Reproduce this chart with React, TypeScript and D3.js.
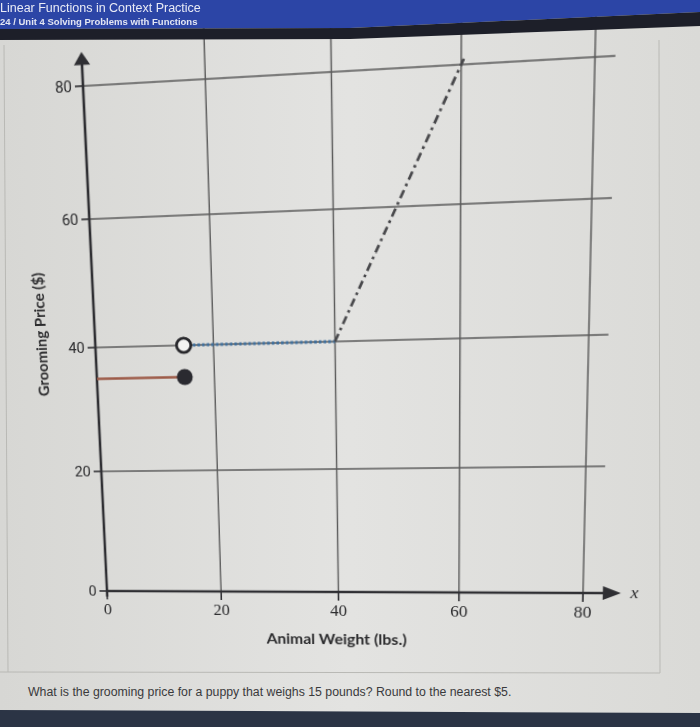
import React from "react";
import * as d3 from "d3";

// ---------- data ----------
const xTicks = [0, 20, 40, 60, 80];
const yTicks = [0, 20, 40, 60, 80];
const solidSegment: [number, number][] = [[0, 35], [15, 35]];
const closedPoint: [number, number] = [15, 35];
const openPoint: [number, number] = [15, 40];
const dottedSegment: [number, number][] = [[15, 40], [40, 40]];
const dashDotSegment: [number, number][] = [[40, 40], [60.4, 80.8]];
const xLabel = "Animal Weight (lbs.)";
const yLabel = "Grooming Price ($)";
const title = "Linear Functions in Context Practice";
const subtitle = "24 / Unit 4 Solving Problems with Functions";
const question = "What is the grooming price for a puppy that weighs 15 pounds? Round to the nearest $5.";

// ---------- layout ----------
const W = 700;
const H = 727;
const xS = d3.scaleLinear().domain([0, 80]).range([107, 584]);
const yS = d3.scaleLinear().domain([0, 80]).range([591, 87]);

// photo perspective: flat chart corners -> photographed corners
const srcPts: [number, number][] = [
  [xS(0), yS(0)], [xS(80), yS(0)], [xS(0), yS(80)], [xS(80), yS(80)],
];
const dstPts: [number, number][] = [
  [107, 591], [583, 593], [83, 86], [595, 57],
];

function homography(src: [number, number][], dst: [number, number][]) {
  const A: number[][] = [];
  for (let i = 0; i < 4; i++) {
    const [x, y] = src[i];
    const [u, v] = dst[i];
    A.push([x, y, 1, 0, 0, 0, -x * u, -y * u, u]);
    A.push([0, 0, 0, x, y, 1, -x * v, -y * v, v]);
  }
  const n = 8;
  for (let c = 0; c < n; c++) {
    let p = c;
    for (let r = c + 1; r < n; r++) if (Math.abs(A[r][c]) > Math.abs(A[p][c])) p = r;
    [A[c], A[p]] = [A[p], A[c]];
    for (let r = 0; r < n; r++) {
      if (r === c) continue;
      const f = A[r][c] / A[c][c];
      for (let k = c; k <= n; k++) A[r][k] -= f * A[c][k];
    }
  }
  const s = A.map((row, i) => row[n] / row[i]);
  const [a, b, c, d, e, f, g, h] = s;
  return `matrix3d(${a},${d},0,${g},${b},${e},0,${h},0,0,1,0,${c},${f},0,1)`;
}

const warp = homography(srcPts, dstPts);
const line = d3.line<[number, number]>().x((d) => xS(d[0])).y((d) => yS(d[1]));

const gridColor = "#5b5b5b";
const axisColor = "#2f2f33";
const textColor = "#2c2c2e";

export default function App() {
  const x0 = xS(0);
  const y0 = yS(0);
  const gridTop = yS(88);
  const gridRight = xS(83);
  const xArrowTip = xS(86);
  const yArrowTip = yS(85);
  return (
    <div style={{ position: "fixed", left: 0, top: 0, width: W, height: H, overflow: "hidden", background: "#dcdcd9" }}>
      {/* base layer */}
      <svg width={W} height={H} style={{ position: "absolute", left: 0, top: 0 }}>
        <defs>
          <linearGradient id="bg" x1="0" x2="1" y1="0" y2="0">
            <stop offset="0" stopColor="#d7d7d4" />
            <stop offset="0.5" stopColor="#e3e3e1" />
            <stop offset="1" stopColor="#dadad7" />
          </linearGradient>
        </defs>
        <rect x={0} y={0} width={W} height={H} fill="url(#bg)" />
        <line x1={4} y1={45} x2={8} y2={672} stroke="#b9b9b5" strokeWidth={1} />
        <line x1={0} y1={672} x2={660} y2={673} stroke="#b9b9b5" strokeWidth={1} />
        <line x1={659} y1={40} x2={660} y2={673} stroke="#b9b9b5" strokeWidth={1} />
        <text x={28} y={696} fontFamily="Liberation Sans, Arial, sans-serif" fontSize={12.3} fill="#3a3a3c">
          {question}
        </text>
        <polygon points={`0,710 ${W},713 ${W},${H} 0,${H}`} fill="#2b3445" />
      </svg>

      {/* chart layer (perspective-warped) */}
      <svg
        width={W}
        height={H}
        style={{ position: "absolute", left: 0, top: 0, overflow: "visible", transformOrigin: "0 0", transform: warp }}
      >
        {/* vertical grid */}
        {xTicks.filter((t) => t > 0).map((t) => (
          <line key={"vx" + t} x1={xS(t)} x2={xS(t)} y1={gridTop} y2={y0} stroke={gridColor} strokeWidth={1.4} />
        ))}
        {/* horizontal grid */}
        {yTicks.filter((t) => t > 0).map((t) => (
          <line key={"hy" + t} x1={x0} x2={gridRight} y1={yS(t)} y2={yS(t)} stroke={gridColor} strokeWidth={1.4} />
        ))}
        {/* y ticks & labels */}
        {yTicks.map((t) => (
          <g key={"yt" + t}>
            <line x1={x0 - 8} x2={x0} y1={yS(t)} y2={yS(t)} stroke={axisColor} strokeWidth={1.6} />
            <text x={x0 - 11} y={yS(t)} dy="0.36em" textAnchor="end" fontFamily="Roboto, sans-serif" fontSize={15} fill={textColor}>
              {t}
            </text>
          </g>
        ))}
        {/* x ticks & labels */}
        {xTicks.map((t) => (
          <g key={"xt" + t}>
            <line x1={xS(t)} x2={xS(t)} y1={y0} y2={y0 + 9} stroke={axisColor} strokeWidth={1.6} />
            <text x={xS(t)} y={y0 + 25} textAnchor="middle" fontFamily="Liberation Serif, serif" fontSize={17} fill={textColor}>
              {t}
            </text>
          </g>
        ))}
        {/* axes */}
        <line x1={x0} x2={xArrowTip - 14} y1={y0} y2={y0} stroke={axisColor} strokeWidth={2.6} />
        <polygon points={`${xArrowTip},${y0} ${xArrowTip - 17},${y0 - 7} ${xArrowTip - 17},${y0 + 7}`} fill={axisColor} />
        <line x1={x0} x2={x0} y1={y0 + 6} y2={yArrowTip + 10} stroke={axisColor} strokeWidth={2.6} />
        <polygon points={`${x0},${yArrowTip} ${x0 - 8},${yArrowTip + 12} ${x0 + 8},${yArrowTip + 12}`} fill={axisColor} />
        <text x={xArrowTip + 9} y={y0 + 5} fontFamily="Liberation Serif, serif" fontStyle="italic" fontSize={17} fill={textColor}>
          x
        </text>
        {/* axis titles */}
        <text x={(xS(0) + xS(80)) / 2 - 3} y={y0 + 55} textAnchor="middle" fontFamily="Lato, sans-serif" fontWeight={700} fontSize={16} fill={textColor}>
          {xLabel}
        </text>
        <text
          transform={`translate(${x0 - 55},${yS(40) - 14}) rotate(-90)`}
          textAnchor="middle"
          dy="0.35em"
          fontFamily="Lato, sans-serif"
          fontWeight={700}
          fontSize={15}
          fill={textColor}
        >
          {yLabel}
        </text>
        {/* data marks */}
        <path d={line(solidSegment) || ""} fill="none" stroke="#9c5a47" strokeWidth={2.4} />
        <path d={line(dottedSegment) || ""} fill="none" stroke="#3f6f9c" strokeWidth={3} strokeDasharray="2.6 2" />
        <path d={line(dashDotSegment) || ""} fill="none" stroke="#47474a" strokeWidth={2.6} strokeDasharray="8 4 2.5 4" />
        <circle cx={xS(closedPoint[0])} cy={yS(closedPoint[1])} r={8} fill="#2a2a30" />
        <circle cx={xS(openPoint[0])} cy={yS(openPoint[1])} r={7.2} fill="#f4f4f2" stroke="#26262a" strokeWidth={2.8} />
      </svg>

      {/* header layer */}
      <svg width={W} height={H} style={{ position: "absolute", left: 0, top: 0, pointerEvents: "none" }}>
        <polygon points={`0,0 ${W},0 ${W},12 350,28 0,29`} fill="#2c45a6" />
        <polygon points={`0,29 350,28 ${W},12 ${W},26 350,39 0,40`} fill="#1d1f29" />
        <text x={0} y={12} fontFamily="Liberation Sans, Arial, sans-serif" fontSize={12.5} fill="#e9ebf6">
          {title}
        </text>
        <text x={0} y={25} fontFamily="Liberation Sans, Arial, sans-serif" fontWeight={700} fontSize={9.5} fill="#e3e6f3">
          {subtitle}
        </text>
      </svg>
    </div>
  );
}
